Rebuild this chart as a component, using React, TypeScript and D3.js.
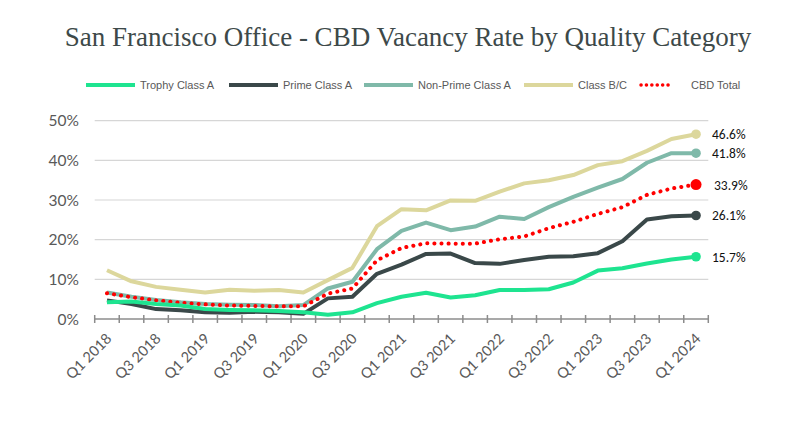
import React, { useEffect, useRef } from 'react';
import * as d3 from 'd3';

// quarters Q1 2018 .. Q1 2024
const quarters: string[] = [
   'Q1 2018', 'Q2 2018', 'Q3 2018', 'Q4 2018',
   'Q1 2019', 'Q2 2019', 'Q3 2019', 'Q4 2019',
   'Q1 2020', 'Q2 2020', 'Q3 2020', 'Q4 2020',
   'Q1 2021', 'Q2 2021', 'Q3 2021', 'Q4 2021',
   'Q1 2022', 'Q2 2022', 'Q3 2022', 'Q4 2022',
   'Q1 2023', 'Q2 2023', 'Q3 2023', 'Q4 2023',
   'Q1 2024',
];

const trophyClassA = [4.2, 4.4, 3.8, 3.4, 2.5, 2.3, 2.2, 2.0, 1.7, 1.1, 1.7, 4.0, 5.6, 6.6, 5.4, 6.0, 7.3, 7.3, 7.5, 9.2, 12.2, 12.8, 14.0, 15.0, 15.7];
const primeClassA = [4.7, 3.8, 2.5, 2.2, 1.7, 1.6, 1.8, 1.7, 1.3, 5.2, 5.6, 11.4, 13.7, 16.4, 16.5, 14.1, 13.9, 14.9, 15.7, 15.8, 16.6, 19.6, 25.1, 25.9, 26.1];
const nonPrimeClassA = [6.7, 5.6, 4.8, 4.2, 3.8, 3.6, 3.5, 3.2, 3.5, 7.7, 9.4, 17.6, 22.2, 24.3, 22.4, 23.3, 25.8, 25.2, 28.2, 30.8, 33.1, 35.3, 39.4, 41.8, 41.8];
const classBC = [12.3, 9.5, 8.1, 7.4, 6.7, 7.4, 7.1, 7.3, 6.7, 9.8, 12.9, 23.4, 27.7, 27.4, 29.9, 29.8, 32.1, 34.2, 35.0, 36.3, 38.8, 39.8, 42.4, 45.4, 46.6];
const cbdTotal = [6.5, 5.5, 4.7, 4.1, 3.7, 3.4, 3.3, 3.2, 3.2, 6.4, 7.7, 14.8, 17.9, 19.1, 19.0, 19.0, 20.1, 20.8, 22.9, 24.5, 26.5, 28.2, 31.3, 32.9, 33.9];

const yTicks = [0, 10, 20, 30, 40, 50];
const endLabels = ['15.7%', '26.1%', '41.8%', '46.6%', '33.9%'];

interface Series {
   name: string;
   values: number[];
   color: string;
   dotted?: boolean;
   label: string;
}

const series: Series[] = [
   { name: 'Trophy Class A', values: trophyClassA, color: '#1ee490', label: endLabels[0] },
   { name: 'Prime Class A', values: primeClassA, color: '#3a4849', label: endLabels[1] },
   { name: 'Non-Prime Class A', values: nonPrimeClassA, color: '#7fb9a9', label: endLabels[2] },
   { name: 'Class B/C', values: classBC, color: '#dcd79c', label: endLabels[3] },
   { name: 'CBD Total', values: cbdTotal, color: '#ff0000', dotted: true, label: endLabels[4] },
];

const W = 800;
const H = 423;

const App: React.FC = () => {
   const svgRef = useRef<SVGSVGElement | null>(null);

   useEffect(() => {
      if (!svgRef.current) return;
      const svg = d3.select(svgRef.current);
      svg.selectAll('*').remove();

      const left = 94.7;
      const right = 708.3;
      const top = 120.7;
      const bottom = 319;

      const x = d3.scaleBand<string>().domain(quarters).range([left, right]).padding(0);
      const y = d3.scaleLinear().domain([0, 50]).range([bottom, top]);
      const cx = (q: string) => x(q)! + x.bandwidth() / 2;

      // title
      svg.append('text')
         .attr('x', 408)
         .attr('y', 46)
         .attr('text-anchor', 'middle')
         .attr('font-family', '"Liberation Serif", serif')
         .attr('font-size', 27)
         .attr('fill', '#3d4949')
         .text('San Francisco Office - CBD Vacancy Rate by Quality Category');

      // legend
      const legendX = [86, 229, 364, 524, 639];
      const legend = svg.append('g');
      series.forEach((s, i) => {
         const lx = legendX[i];
         const lw = s.dotted ? 32 : 49;
         legend.append('line')
            .attr('x1', lx + (s.dotted ? 2 : 0))
            .attr('x2', lx + lw)
            .attr('y1', 85)
            .attr('y2', 85)
            .attr('stroke', s.color)
            .attr('stroke-width', s.dotted ? 3.5 : 4)
            .attr('stroke-linecap', s.dotted ? 'round' : 'butt')
            .attr('stroke-dasharray', s.dotted ? '0.1 5.3' : null);
         legend.append('text')
            .attr('x', lx + lw + (s.dotted ? 20 : 5))
            .attr('y', 89)
            .attr('font-family', '"Liberation Sans", Arial, sans-serif')
            .attr('font-size', 11)
            .attr('fill', '#595959')
            .text(s.name);
      });

      // gridlines
      svg.append('g')
         .selectAll('line')
         .data(yTicks.filter(t => t > 0))
         .enter()
         .append('line')
         .attr('x1', left)
         .attr('x2', right)
         .attr('y1', d => y(d))
         .attr('y2', d => y(d))
         .attr('stroke', '#d6d6d6')
         .attr('stroke-width', 1.2);

      // y labels
      svg.append('g')
         .selectAll('text')
         .data(yTicks)
         .enter()
         .append('text')
         .attr('x', 79)
         .attr('y', d => y(d) + 5.5)
         .attr('text-anchor', 'end')
         .attr('font-family', 'Lato, sans-serif')
         .attr('font-size', 15.5)
         .attr('fill', '#595959')
         .text(d => `${d}%`);

      // x axis line and cross ticks at band edges
      const axis = svg.append('g');
      axis.append('line')
         .attr('x1', left)
         .attr('x2', right)
         .attr('y1', bottom)
         .attr('y2', bottom)
         .attr('stroke', '#8c8c8c')
         .attr('stroke-width', 1.5);
      const edges = quarters.map(q => x(q)!).concat([x(quarters[quarters.length - 1])! + x.bandwidth()]);
      axis.selectAll('.tick')
         .data(edges)
         .enter()
         .append('line')
         .attr('class', 'tick')
         .attr('x1', d => d)
         .attr('x2', d => d)
         .attr('y1', bottom - 4)
         .attr('y2', bottom + 4)
         .attr('stroke', '#8c8c8c')
         .attr('stroke-width', 1.5);

      // x labels, every second quarter
      axis.selectAll('.xlabel')
         .data(quarters.filter((_, i) => i % 2 === 0))
         .enter()
         .append('text')
         .attr('class', 'xlabel')
         .attr('transform', d => `translate(${cx(d) + 2},${bottom + 17}) rotate(-45)`)
         .attr('text-anchor', 'end')
         .attr('dy', '0.35em')
         .attr('font-family', 'Lato, sans-serif')
         .attr('font-size', 14.5)
         .attr('fill', '#595959')
         .text(d => d);

      // lines
      const line = d3.line<number>()
         .x((_, i) => cx(quarters[i]))
         .y(d => y(d));

      const drawOrder = [3, 2, 4, 1, 0];
      drawOrder.forEach(idx => {
         const s = series[idx];
         svg.append('path')
            .datum(s.values)
            .attr('d', line)
            .attr('fill', 'none')
            .attr('stroke', s.color)
            .attr('stroke-width', 4)
            .attr('stroke-linejoin', 'round')
            .attr('stroke-linecap', s.dotted ? 'round' : 'butt')
            .attr('stroke-dasharray', s.dotted ? '0.1 7' : null);
      });

      // end markers and labels
      const last = quarters[quarters.length - 1];
      series.forEach(s => {
         const v = s.values[s.values.length - 1];
         svg.append('circle')
            .attr('cx', cx(last))
            .attr('cy', y(v))
            .attr('r', s.dotted ? 5.5 : 4.8)
            .attr('fill', s.color);
         svg.append('text')
            .attr('x', cx(last) + (s.dotted ? 18 : 16))
            .attr('y', y(v) + 5)
            .attr('font-family', '"Liberation Sans Narrow", Carlito, "Liberation Sans", sans-serif')
            .attr('font-size', 13.5)
            .attr('fill', '#111')
            .text(s.label);
      });
   }, []);

   return (
      <div style={{ position: 'fixed', left: 0, top: 0, width: W, height: H, background: '#fff' }}>
         <svg ref={svgRef} width={W} height={H} viewBox={`0 0 ${W} ${H}`} style={{ display: 'block' }} />
      </div>
   );
};

export default App;
